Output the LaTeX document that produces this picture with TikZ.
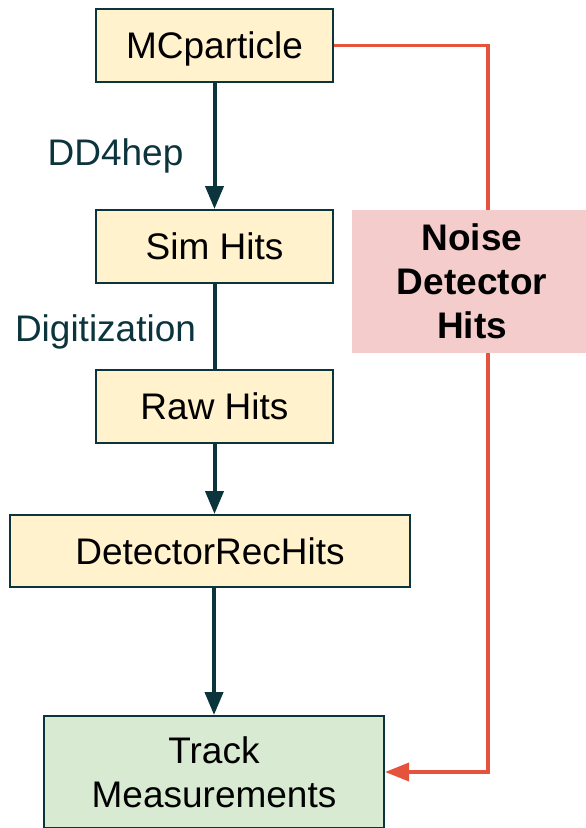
\documentclass[tikz,border=0pt]{standalone}
\usepackage{fontspec}
\setmainfont{Liberation Sans}
\usetikzlibrary{arrows.meta}
\definecolor{boxy}{HTML}{FFF2CC}
\definecolor{boxg}{HTML}{D9EAD3}
\definecolor{boxp}{HTML}{F4CCCC}
\definecolor{dteal}{HTML}{0C343D}
\definecolor{redl}{HTML}{E6533C}
\tikzset{
  base/.style={inner sep=0pt, font=\fontsize{37}{44}\selectfont, text=black, align=center},
  ybox/.style={base, draw=dteal, line width=2pt, fill=boxy, text height=26.5pt, text depth=0pt},
  gbox/.style={base, draw=dteal, line width=2pt, fill=boxg},
  pbox/.style={base, fill=boxp, font=\fontsize{37}{44}\selectfont\bfseries},
  lab/.style={inner sep=0pt, font=\fontsize{37}{44}\selectfont, text=dteal, anchor=base},
  darr/.style={draw=dteal, line width=4pt, -{Triangle[length=23pt,width=18pt]}},
  dline/.style={draw=dteal, line width=4pt},
  rline/.style={draw=redl, line width=3.5pt},
  rarr/.style={draw=redl, line width=3.5pt, -{Triangle[length=24pt,width=18pt]}}
}
\begin{document}
\begin{tikzpicture}[x=1pt,y=-1pt]
\useasboundingbox (0,0) rectangle (586,828);
\node[ybox, minimum width=237pt, minimum height=73pt] (mc) at (214.5,45.5) {MCparticle};
\node[ybox, minimum width=237pt, minimum height=73pt] (sim) at (214.5,246.5) {Sim Hits};
\node[ybox, minimum width=237pt, minimum height=73pt] (raw) at (214.5,406.5) {Raw Hits};
\node[ybox, minimum width=400pt, minimum height=72pt] (det) at (210,551) {DetectorRecHits};
\node[gbox, minimum width=340pt, minimum height=112pt] (trk) at (214,772) {Track\\Measurements};
\node[pbox, minimum width=240pt, minimum height=143pt] (noise) at (472,281.5) {Noise\\Detector\\Hits};
\node[lab] (l1) at (115.5,165) {DD4hep};
\node[lab] (l2) at (105.5,341) {Digitization};
\draw[darr] (mc.south) -- (sim.north);
\draw[dline] (sim.south) -- (raw.north);
\draw[darr] (raw.south) -- (raw.south |- det.north);
\draw[darr] (det.south -| trk.north) -- (trk.north);
\coordinate (r1) at (488,45.5);
\draw[rline] (mc.east) -- (r1) -- (r1 |- noise.north);
\draw[rarr] (r1 |- noise.south) |- (trk.east);
\end{tikzpicture}
\end{document}
